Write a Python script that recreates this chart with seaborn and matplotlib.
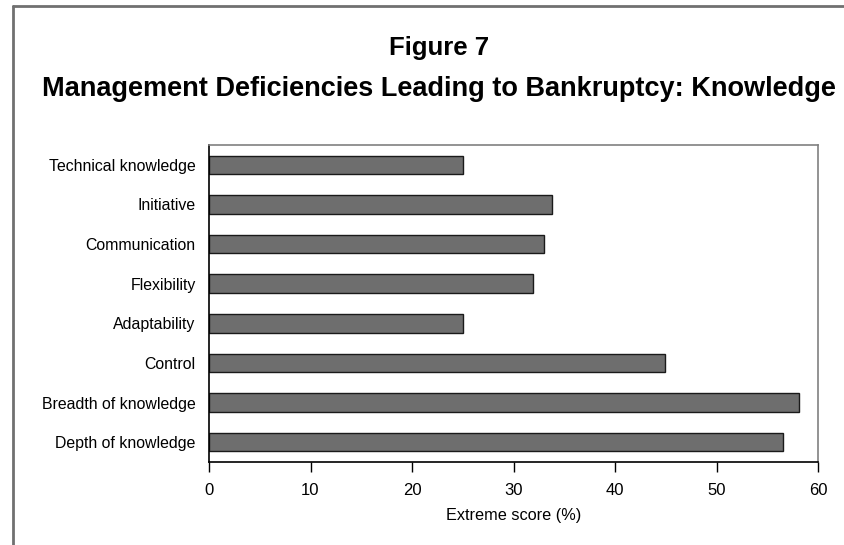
import matplotlib
matplotlib.use("Agg")
import matplotlib.pyplot as plt
from matplotlib.lines import Line2D
import pandas as pd
import seaborn as sns

# values (top to bottom)
categories = [
    "Technical knowledge",
    "Initiative",
    "Communication",
    "Flexibility",
    "Adaptability",
    "Control",
    "Breadth of knowledge",
    "Depth of knowledge",
]
scores = [25.0, 33.8, 33.0, 31.9, 25.0, 44.9, 58.1, 56.6]
x_ticks = [0, 10, 20, 30, 40, 50, 60]

sns.set_theme(style="white")
plt.rcParams["font.family"] = ["Liberation Sans", "DejaVu Sans"]
for key in ("text.color", "axes.labelcolor", "xtick.color", "ytick.color"):
    plt.rcParams[key] = "black"

df = pd.DataFrame({"category": categories, "score": scores})

W, H = 844, 545
fig = plt.figure(figsize=(W / 100, H / 100), dpi=100)
ax = fig.add_axes([209 / W, 1 - 462 / H, (818 - 209) / W, (462 - 145) / H])

sns.barplot(
    data=df, x="score", y="category", order=categories,
    orient="h", color="#6e6e6e", saturation=1,
    edgecolor="#1a1a1a", linewidth=1.0, width=0.467, ax=ax,
)

ax.set_xlim(0, 60)
ax.set_ylim(len(categories) - 0.5, -0.5)
ax.set_xticks(x_ticks)
ax.set_xticklabels([str(t) for t in x_ticks], fontsize=12)
ax.tick_params(axis="x", bottom=True, length=7.2, width=1, color="black", pad=8)
ax.tick_params(axis="y", left=False, labelsize=11.4, pad=3.5)
ax.set_xlabel("Extreme score (%)", fontsize=11.7, labelpad=7)
ax.set_ylabel("")
for name, sp in ax.spines.items():
    sp.set_visible(True)
    sp.set_linewidth(1.2)
    sp.set_color("black" if name in ("left", "bottom") else "#808080")

title_font = ["Liberation Sans", "DejaVu Sans"]
fig.text(439 / W, 1 - 55 / H, "Figure 7", ha="center", va="baseline",
         fontsize=18.5, fontweight="bold", family=title_font)
fig.text(439 / W, 1 - 96 / H, "Management Deficiencies Leading to Bankruptcy: Knowledge",
         ha="center", va="baseline", fontsize=19.5, fontweight="bold", family=title_font)

# outer frame: left and top edges only
frame_kw = dict(color="#707070", linewidth=2, transform=fig.transFigure)
fig.add_artist(Line2D([13 / W, 13 / W], [0, 1 - 6 / H], **frame_kw))
fig.add_artist(Line2D([13 / W, 1], [1 - 6 / H, 1 - 6 / H], **frame_kw))

fig.savefig("out.png", dpi=100)
